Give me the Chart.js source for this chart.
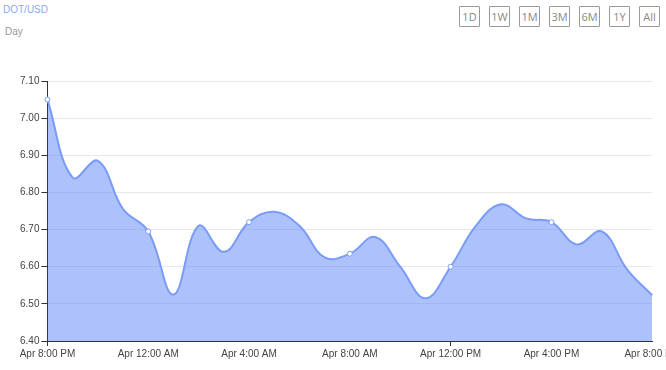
<!DOCTYPE html>
<html lang="en">
<head>
  <meta charset="UTF-8" />
  <title>DOT/USD</title>
  <script src="https://cdn.jsdelivr.net/npm/chart.js"></script>
  <style>
    html, body { margin: 0; padding: 0; width: 666px; height: 370px; overflow: hidden; background: #fff; font-family: "Liberation Sans", Arial, sans-serif; }
    .title { position: absolute; left: 3px; top: 4px; font-size: 10px; color: #8fa9f7; }
    .sub { position: absolute; left: 5px; top: 26px; font-size: 10px; color: #999; }
    .ranges { position: absolute; left: 459px; top: 6px; }
    .ranges span { position: absolute; top: 0; width: 19px; height: 19px; border: 1px solid #999; border-radius: 1px; font: 11px "Open Sans", sans-serif; color: #888; line-height: 19px; text-align: center; }
    .wrap { position: absolute; left: 0; top: 62px; width: 682px; height: 308px; }
  </style>
</head>
<body>
  <div class="title">DOT/USD</div>
  <div class="sub">Day</div>
  <div class="ranges" id="ranges"></div>
  <div class="wrap"><canvas id="chart"></canvas></div>

  <script>
    const rangeButtons = ["1D", "1W", "1M", "3M", "6M", "1Y", "All"];

    const hours = ["8:00 PM", "9:00 PM", "10:00 PM", "11:00 PM",
      "12:00 AM", "1:00 AM", "2:00 AM", "3:00 AM",
      "4:00 AM", "5:00 AM", "6:00 AM", "7:00 AM",
      "8:00 AM", "9:00 AM", "10:00 AM", "11:00 AM",
      "12:00 PM", "1:00 PM", "2:00 PM", "3:00 PM",
      "4:00 PM", "5:00 PM", "6:00 PM", "7:00 PM", "8:00 PM"];

    const prices = [7.05, 6.84, 6.885, 6.755, 6.695, 6.525, 6.71, 6.64,
      6.72, 6.748, 6.71, 6.625, 6.635, 6.68, 6.60, 6.515,
      6.60, 6.71, 6.768, 6.73, 6.72, 6.66, 6.695, 6.593, 6.523];

    const yTicks = [6.4, 6.5, 6.6, 6.7, 6.8, 6.9, 7.0, 7.1];

    const box = document.getElementById("ranges");
    rangeButtons.forEach((b, i) => {
      const s = document.createElement("span");
      s.textContent = b;
      s.style.left = (i * 30) + "px";
      box.appendChild(s);
    });

    const labels = hours.map(h => "Apr " + h);
    const last = prices.length - 1;

    new Chart(document.getElementById("chart"), {
      type: "line",
      data: {
        labels: labels,
        datasets: [{
          data: prices,
          borderColor: "#7a9cf8",
          borderWidth: 2,
          backgroundColor: "rgba(91,131,247,0.5)",
          fill: "start",
          tension: 0.4,
          // markers only on the 4-hour ticks, not the final one
          pointRadius: ctx => (ctx.dataIndex % 4 === 0 && ctx.dataIndex !== last) ? 2.5 : 0,
          pointBackgroundColor: "#fff",
          pointBorderColor: "#7a9cf8",
          pointBorderWidth: 1
        }]
      },
      options: {
        responsive: true,
        maintainAspectRatio: false,
        animation: false,
        layout: { padding: { left: 18, right: 0, top: 19, bottom: 8 } },
        plugins: { legend: { display: false }, tooltip: { enabled: false } },
        scales: {
          x: {
            offset: false,
            grid: {
              display: true,
              drawOnChartArea: false,
              tickLength: 5,
              color: ctx => (ctx.index % 4 === 0 ? "#333" : "rgba(0,0,0,0)")
            },
            border: { display: true, color: "#333", width: 1 },
            ticks: {
              autoSkip: false,
              maxRotation: 0,
              color: "#444",
              font: { size: 10, family: "'Liberation Sans', Arial, sans-serif" },
              padding: 2,
              callback: function (v, i) { return i % 4 === 0 ? labels[i] : null; }
            }
          },
          y: {
            min: yTicks[0],
            max: yTicks[yTicks.length - 1],
            afterBuildTicks: axis => { axis.ticks = yTicks.map(v => ({ value: v })); },
            grid: { color: "#e8e8e8", tickLength: 6, tickColor: "#333" },
            border: { display: true, color: "#333", width: 1 },
            ticks: {
              color: "#444",
              font: { size: 10, family: "'Liberation Sans', Arial, sans-serif" },
              padding: 2,
              callback: v => v.toFixed(2)
            }
          }
        }
      }
    });
  </script>
</body>
</html>
